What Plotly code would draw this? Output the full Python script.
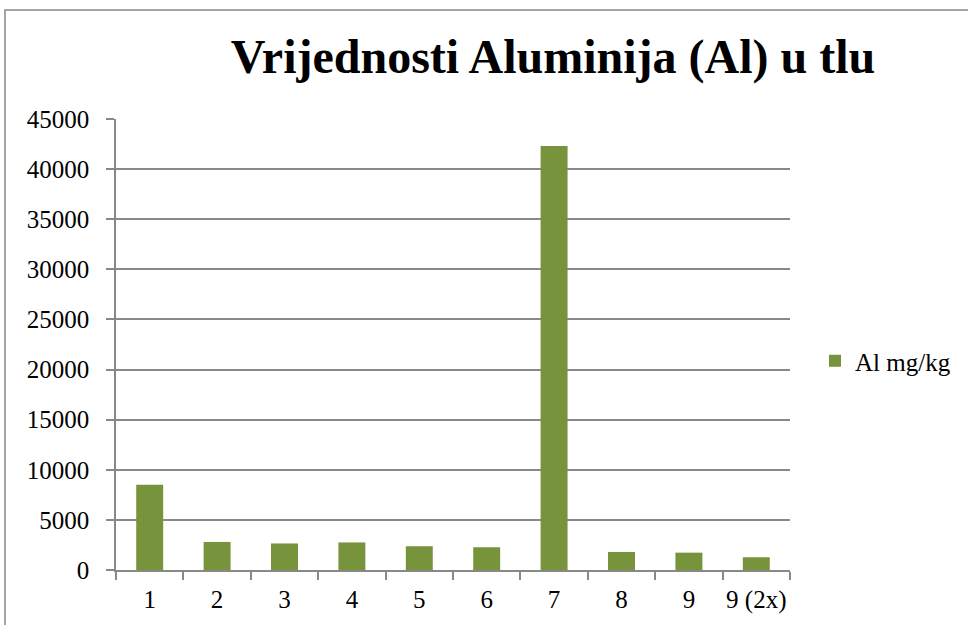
import plotly.graph_objects as go

categories = ["1", "2", "3", "4", "5", "6", "7", "8", "9", "9 (2x)"]
al_values = [8500, 2800, 2650, 2750, 2370, 2270, 42300, 1800, 1730, 1270]
series_name = "Al mg/kg"
title_text = "Vrijednosti Aluminija (Al) u tlu"
y_ticks = [0, 5000, 10000, 15000, 20000, 25000, 30000, 35000, 40000, 45000]

W, H = 968, 625
L, R, T, B = 116, 178, 119, 55
pw = W - L - R
ph = H - T - B

grid_c = "#888888"
font_family = "Liberation Serif"

fig = go.Figure()
fig.add_trace(go.Bar(
    x=categories, y=al_values, name=series_name,
    marker=dict(color="#77933C", line=dict(width=0)),
    showlegend=True,
))

fig.update_layout(
    width=W, height=H,
    margin=dict(l=L, r=R, t=T, b=B, autoexpand=False),
    paper_bgcolor="white", plot_bgcolor="white",
    bargap=0.6,
    font=dict(family=font_family, size=25, color="black"),
    title=dict(
        text="<b>" + title_text + "</b>",
        font=dict(family=font_family, size=48, color="black", weight="bold"),
        x=553 / W, xref="container", xanchor="center",
        y=1 - 56 / H, yref="container", yanchor="middle",
    ),
    showlegend=True,
    legend=dict(
        x=(815 - L) / pw, xanchor="left",
        y=(570 - 361) / ph, yanchor="middle",
        font=dict(family=font_family, size=25, color="black"),
        bgcolor="rgba(0,0,0,0)",
    ),
    xaxis=dict(
        type="category",
        showline=True, linecolor=grid_c, linewidth=1.5,
        ticks="outside", tickson="boundaries", ticklen=8,
        tickcolor=grid_c, tickwidth=1.5,
        showgrid=False, zeroline=False,
        tickangle=0,
        tickfont=dict(family=font_family, size=25, color="black"),
        ticklabelstandoff=6,
    ),
    yaxis=dict(
        range=[0, 45000],
        tickvals=y_ticks,
        ticktext=[str(v) for v in y_ticks],
        showline=True, linecolor=grid_c, linewidth=1.5,
        ticks="outside", ticklen=8, tickcolor=grid_c, tickwidth=1.5,
        showgrid=True, gridcolor=grid_c, gridwidth=1.5,
        zeroline=False,
        tickfont=dict(family=font_family, size=25, color="black"),
        ticklabelstandoff=12,
    ),
    shapes=[dict(
        type="rect", xref="paper", yref="paper",
        x0=(5 - L) / pw, x1=2.0,
        y0=-1.0, y1=(570 - 10) / ph,
        line=dict(color=grid_c, width=1.5),
        fillcolor="rgba(0,0,0,0)", layer="below",
    )],
)

fig.write_html(
    "out.html",
    config={"displayModeBar": False},
    post_script="document.body.style.margin='0';document.body.style.overflow='hidden';",
)
